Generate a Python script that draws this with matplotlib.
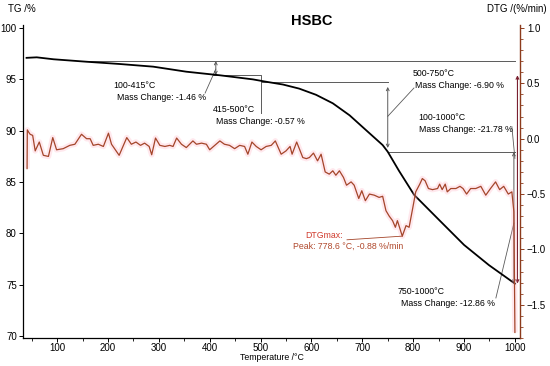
import matplotlib
matplotlib.use("Agg")
import matplotlib.pyplot as plt
from matplotlib.ticker import MultipleLocator

plt.rcParams['font.family'] = ['Liberation Sans', 'DejaVu Sans']

''' DATA '''

# TG curve (mass %)
tg_temp = [40, 60, 93, 158, 223, 289, 354, 420, 485, 511, 544, 576, 609, 642, 675,
           707, 740, 750, 772, 802, 851, 900, 949, 1000]
tg_mass = [97.1, 97.15, 96.96, 96.72, 96.5, 96.24, 95.75, 95.4, 95.0, 94.77, 94.5, 94.1,
           93.5, 92.67, 91.5, 90.07, 88.6, 87.95, 86.1, 83.74, 81.3, 78.87, 76.9, 75.1]

# DTG curve (%/min)
dtg_temp = [41, 41.5, 44, 47, 52, 57, 65, 73, 83, 91.5, 99, 112, 125, 135, 148, 158, 165,
            171, 181, 191, 201, 207, 222, 237, 246, 255, 264, 272, 281, 286, 293.5, 302,
            312, 321.5, 328, 335, 344.5, 354, 367, 374, 384, 393.5, 400, 410, 420, 429,
            439, 449, 459, 468.6, 475, 483, 491.5, 501, 511, 521, 529, 540.5, 550, 558,
            562, 571, 583, 590, 596, 604, 612, 619, 627, 635, 642, 648, 655, 663, 669,
            678, 684, 693, 699, 706, 714, 723.5, 733, 740, 746.5, 753, 759.5, 765, 769,
            778.6, 786, 792, 799, 805, 813, 818, 823.5, 830, 838, 848, 852, 857, 863,
            867, 874, 884, 892, 898, 905, 913, 923, 933, 942.7, 952, 962, 970, 978, 987,
            994, 998, 1000]
dtg_rate = [-0.27, 0.08, 0.06, 0.04, 0.03, -0.11, -0.03, -0.15, -0.16, 0.01, -0.10, -0.09,
            -0.06, -0.05, 0.04, 0.0, 0.0, -0.06, -0.05, -0.07, 0.05, -0.05, -0.15, 0.01,
            -0.05, -0.03, -0.06, -0.04, -0.07, -0.145, 0.006, -0.06, -0.07, -0.06, -0.07,
            0.006, -0.05, -0.08, -0.02, -0.05, -0.04, -0.05, -0.10, -0.06, -0.02, -0.05,
            -0.06, -0.09, -0.06, -0.07, -0.14, -0.03, -0.07, -0.10, -0.07, -0.06, -0.02,
            -0.14, -0.11, -0.07, -0.14, -0.03, -0.17, -0.18, -0.17, -0.13, -0.20, -0.14,
            -0.30, -0.32, -0.29, -0.33, -0.29, -0.35, -0.42, -0.39, -0.42, -0.54, -0.47,
            -0.56, -0.50, -0.51, -0.53, -0.52, -0.65, -0.70, -0.74, -0.80, -0.74, -0.88,
            -0.785, -0.80, -0.63, -0.48, -0.41, -0.36, -0.38, -0.45, -0.46, -0.45, -0.41,
            -0.46, -0.41, -0.48, -0.45, -0.45, -0.43, -0.45, -0.50, -0.45, -0.45, -0.43,
            -0.51, -0.45, -0.39, -0.46, -0.43, -0.50, -0.48, -0.66, -1.75]

# mass levels of the steps
level_start = 96.79
level_415 = 95.42
level_500 = 94.77
level_750 = 87.92
level_1000 = 75.1
peak_temp = 778.6
peak_rate = -0.88

''' PLOTTING '''

fig = plt.figure(figsize=(5.5, 3.66), dpi=100)
ax = fig.add_axes([23 / 550, 28 / 366, 497 / 550, 313 / 366])
ax2 = ax.twinx()

brown = '#8c3b1c'
dtg_col = '#a4452a'
grey = '#5a5a5a'

# DTG with a faint pink halo like the original export
ax2.plot(dtg_temp, dtg_rate, color='#ffb3c4', lw=4, alpha=0.3, solid_capstyle='butt')
ax2.plot(dtg_temp, dtg_rate, color=dtg_col, lw=0.9)

ax.plot(tg_temp, tg_mass, color='black', lw=1.3, zorder=5)

# step lines
ax.plot([151, 1000], [level_start, level_start], color=grey, lw=0.7)
ax.plot([406, 501, 501], [level_415, level_415, 91.72], color=grey, lw=0.7)
ax.plot([501, 750], [level_500, level_500], color=grey, lw=0.7)
ax.plot([750, 1000], [level_750, level_750], color=grey, lw=0.7)

arrow = dict(arrowstyle='<->', color=grey, lw=0.7, shrinkA=0, shrinkB=0,
             mutation_scale=5)
ax.annotate('', xy=(412, level_start), xytext=(412, level_415), arrowprops=arrow)
ax.annotate('', xy=(750, level_500 - 0.5), xytext=(750, level_750 + 0.4), arrowprops=arrow)
ax.annotate('', xy=(998, level_750), xytext=(998, level_1000), arrowprops=arrow)
ax.annotate('', xy=(1005, 95.4), xytext=(1005, level_1000),
            arrowprops=dict(arrowstyle='<->', color='#7a2030', lw=0.8, shrinkA=0,
                            shrinkB=0, mutation_scale=5))

# leader lines
ax.plot([391, 412], [93.67, 96.0], color=grey, lw=0.6)
ax.plot([750, 801.5], [91.4, 94.16], color=grey, lw=0.6)
ax.plot([994, 1000], [90.4, 87.3], color=grey, lw=0.6)
ax.plot([962.6, 998], [73.7, 81.0], color=grey, lw=0.6)
ax2.plot([669.9, peak_temp], [-0.913, peak_rate], color=dtg_col, lw=0.6)

fs = 6.3
ax.text(210, 94.45, '100-415°C', fontsize=fs, va='center')
ax.text(218, 93.28, 'Mass Change: -1.46 %', fontsize=fs, va='center')
ax.text(406.5, 92.1, '415-500°C', fontsize=fs, va='center')
ax.text(412.4, 90.94, 'Mass Change: -0.57 %', fontsize=fs, va='center')
ax.text(799.5, 95.6, '500-750°C', fontsize=fs, va='center')
ax.text(803.5, 94.45, 'Mass Change: -6.90 %', fontsize=fs, va='center')
ax.text(809.4, 91.33, '100-1000°C', fontsize=fs, va='center')
ax.text(811.3, 90.16, 'Mass Change: -21.78 %', fontsize=fs, va='center')
ax.text(770, 74.29, '750-1000°C', fontsize=fs, va='center')
ax.text(776, 73.2, 'Mass Change: -12.86 %', fontsize=fs, va='center')
ax2.text(587, -0.876, 'DTGmax:', fontsize=fs, va='center', color='#d03a2c')
ax2.text(563.7, -0.975, 'Peak: 778.6 °C, -0.88 %/min', fontsize=fs, va='center',
         color='#b0482c')

# axes setup
ax.set_xlim(33, 1010)
ax.set_ylim(69.8, 100.3)
ax2.set_ylim(-1.80, 1.027)

ax.xaxis.set_major_locator(MultipleLocator(100))
ax.xaxis.set_minor_locator(MultipleLocator(50))
ax.yaxis.set_major_locator(MultipleLocator(5))
ax2.yaxis.set_major_locator(MultipleLocator(0.5))
ax2.yaxis.set_minor_locator(MultipleLocator(0.1))

ax.tick_params(labelsize=7, length=3, width=0.7, pad=1.5)
ax.tick_params(axis='x', pad=0.5)
ax.tick_params(which='minor', length=2, width=0.6)
ax2.tick_params(labelsize=7, length=3, width=0.7, pad=2, color=brown)
ax2.tick_params(which='minor', length=2, width=0.6, color=brown)

for a in (ax, ax2):
    a.spines['top'].set_visible(False)
ax.spines['right'].set_visible(False)
ax2.spines['left'].set_visible(False)
ax2.spines['bottom'].set_visible(False)
ax2.spines['right'].set_color(brown)
ax2.spines['right'].set_linewidth(1.0)
ax.spines['left'].set_linewidth(0.9)
ax.spines['bottom'].set_linewidth(0.9)

fig.text(312 / 550, 1 - 21 / 366, 'HSBC', fontsize=10.5, fontweight='bold',
         ha='center', va='center')
fig.text(8 / 550, 1 - 9 / 366, 'TG /%', fontsize=7, va='center')
fig.text(547 / 550, 1 - 9 / 366, 'DTG /(%/min)', fontsize=7, va='center', ha='right')
fig.text(272 / 550, 1 - 358 / 366, 'Temperature /°C', fontsize=6.3, va='center',
         ha='center')

fig.savefig('out.png', dpi=100)
